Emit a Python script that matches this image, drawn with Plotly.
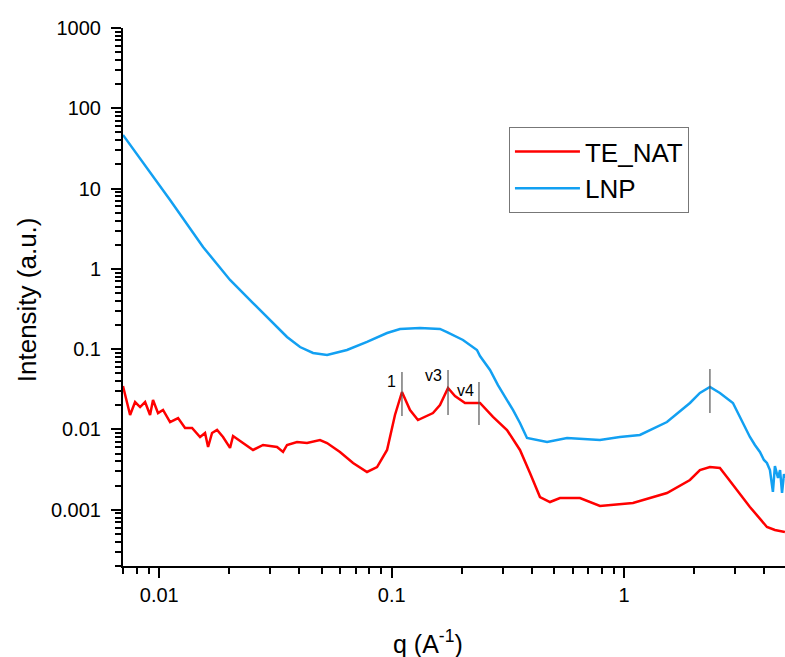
import math
import plotly.graph_objects as go

# ---- data (q in A^-1, intensity in a.u.) ----
q_lnp = [0.00698, 0.01113, 0.01543, 0.02016, 0.02532, 0.03087, 0.03546, 0.04033,
         0.04587, 0.0527, 0.0642, 0.0783, 0.0955, 0.1086, 0.1323, 0.1613, 0.1729, 0.2026,
         0.2172, 0.2327, 0.2398, 0.2648, 0.2865, 0.3133, 0.3324, 0.3563, 0.382, 0.466,
         0.5681, 0.787, 0.958, 1.169, 1.357, 1.528, 1.919, 2.118, 2.339, 2.582, 2.938,
         3.476, 3.652, 3.838, 3.994, 4.114, 4.238, 4.365, 4.453, 4.591, 4.685, 4.778,
         4.871, 4.915]
i_lnp = [46.6, 7.21, 1.875, 0.728, 0.376, 0.212, 0.142, 0.1064,
         0.0897, 0.0847, 0.0977, 0.123, 0.159, 0.1786, 0.1837, 0.1786, 0.1637, 0.1303,
         0.1127, 0.0977, 0.0822, 0.0551, 0.0358, 0.0233, 0.0175, 0.01205, 0.00783, 0.00698,
         0.00783, 0.0074, 0.00807, 0.00855, 0.01044, 0.01239, 0.02138, 0.0285, 0.0338, 0.0285, 0.02138,
         0.00807, 0.00641, 0.00525, 0.00417, 0.00383, 0.00313, 0.00167, 0.00351, 0.00249, 0.00313, 0.00162,
         0.00279, 0.00249]

q_te = [0.00698, 0.0072, 0.00749, 0.00787, 0.00827, 0.00869, 0.00913, 0.0094, 0.00988,
        0.01038, 0.01113, 0.01205, 0.01291, 0.01384, 0.01498, 0.01574, 0.01622, 0.01687,
        0.01773, 0.01881, 0.02016, 0.02077, 0.02293, 0.02532, 0.02797, 0.03211, 0.03408,
        0.03546, 0.03914, 0.04322, 0.04915, 0.0527, 0.0599, 0.0682, 0.0783, 0.0865, 0.0955,
        0.1033, 0.1107, 0.1199, 0.1297, 0.1505, 0.1613, 0.1747, 0.1872, 0.2067, 0.2398,
        0.2728, 0.3133, 0.3563, 0.3934, 0.4344, 0.4797, 0.5295, 0.6455, 0.787, 1.091,
        1.291, 1.528, 1.919, 2.118, 2.339, 2.582, 2.768, 3.476, 4.114, 4.453, 4.915]
i_te = [0.0348, 0.0247, 0.01517, 0.022, 0.01905, 0.022, 0.01517, 0.0233, 0.016,
        0.0175, 0.01239, 0.0139, 0.01044, 0.01044, 0.00807, 0.00904, 0.00605, 0.00904,
        0.00986, 0.00807, 0.00589, 0.0083, 0.00679, 0.00556, 0.00641, 0.00605, 0.00525,
        0.00641, 0.00698, 0.00679, 0.0074, 0.00679, 0.00525, 0.00383, 0.00296, 0.00341, 0.00556,
        0.01517, 0.0293, 0.0175, 0.01312, 0.016, 0.0202, 0.0329, 0.0261, 0.0214, 0.0214,
        0.01432, 0.00986, 0.00556, 0.00287, 0.00144, 0.00125, 0.0014, 0.0014, 0.001114, 0.001216,
        0.0014, 0.00162, 0.00235, 0.00313, 0.00341, 0.00332, 0.00256, 0.001084, 0.000611, 0.000561,
        0.00053]

# peak markers (vertical reference lines)
peak_labels = ["1", "v3", "v4", ""]
peak_q = [0.1107, 0.1747, 0.2374, 2.339]
peak_lo = [0.0147, 0.0152, 0.01138, 0.01606]
peak_hi = [0.052, 0.0551, 0.0391, 0.0566]
label_shift = [(-4, -9), (-4, -6), (-3, -9), (0, 0)]

# axis ticks: one labelled tick per decade, minor ticks at 2..9
X_RANGE = [-2.156, 0.692]
Y_RANGE = [-3.70, 3.0]
DECADE = 1

FONT = "Liberation Sans, Arial, sans-serif"
RED = "#FF0000"
BLUE = "#12A0F2"

fig = go.Figure()
fig.add_trace(go.Scatter(x=q_te, y=i_te, mode="lines", name="TE_NAT",
                         line=dict(color=RED, width=2.5)))
fig.add_trace(go.Scatter(x=q_lnp, y=i_lnp, mode="lines", name="LNP",
                         line=dict(color=BLUE, width=2.5)))

for lab, q, lo, hi, sh in zip(peak_labels, peak_q, peak_lo, peak_hi, label_shift):
    fig.add_trace(go.Scatter(x=[q, q], y=[lo, hi], mode="lines", showlegend=False,
                             hoverinfo="skip", line=dict(color="#555555", width=1.2)))
    if lab:
        fig.add_annotation(x=math.log10(q), y=math.log10(hi), xref="x", yref="y",
                           text=lab, showarrow=False, xanchor="right", yanchor="middle",
                           xshift=sh[0], yshift=sh[1],
                           font=dict(family=FONT, size=16, color="black"))

axis_common = dict(type="log", showline=True, linecolor="#000000", linewidth=2,
                   ticks="outside", ticklen=10, tickwidth=2, tickcolor="#000000",
                   dtick=DECADE,
                   tickfont=dict(family=FONT, size=20, color="black"),
                   minor=dict(ticks="outside", ticklen=6, tickwidth=1.5,
                              tickcolor="#000000", dtick="D1"))

fig.update_xaxes(range=X_RANGE, showgrid=False, zeroline=False, **axis_common)
fig.update_yaxes(range=Y_RANGE, showgrid=False, zeroline=False,
                 ticklabelstandoff=6, **axis_common)

fig.add_annotation(text="Intensity (a.u.)", xref="paper", yref="paper",
                   x=-0.145, y=0.494, textangle=-90, showarrow=False,
                   xanchor="center", yanchor="middle",
                   font=dict(family=FONT, size=26, color="black"))
fig.add_annotation(text="q (A<sup>-1</sup>)", xref="paper", yref="paper",
                   x=0.4607, y=-0.141, showarrow=False,
                   xanchor="center", yanchor="middle",
                   font=dict(family=FONT, size=25, color="black"))

fig.update_layout(
    width=785, height=657,
    margin=dict(l=123, r=0, t=28, b=91),
    paper_bgcolor="white", plot_bgcolor="white",
    font=dict(family=FONT, color="black"),
    legend=dict(x=0.583, y=0.816, xanchor="left", yanchor="top",
                bordercolor="#777777", borderwidth=1, bgcolor="white",
                font=dict(family=FONT, size=26, color="black"),
                itemwidth=65, tracegroupgap=0),
    showlegend=True,
)

fig.write_html("out.html")
